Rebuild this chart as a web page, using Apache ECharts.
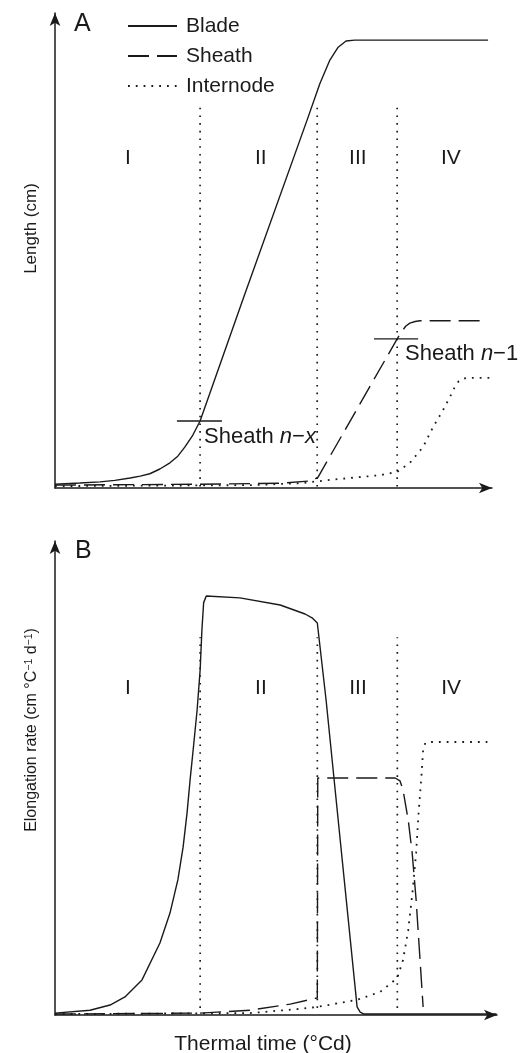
<!DOCTYPE html>
<html><head><meta charset="utf-8">
<script src="https://cdn.jsdelivr.net/npm/echarts@6/dist/echarts.min.js"></script>
<style>html,body{margin:0;padding:0;background:#fff}#c{width:523px;height:1053px}</style>
</head><body><div id="c"></div>
<script>
// Phase boundaries (thermal time units)
var phaseBounds = [33.2, 60.0, 78.3];
var phaseNames = ['I', 'II', 'III', 'IV'];
var phaseLabelX = [16.7, 47.1, 69.3, 90.6];

// Panel A: length
var bladeA_t = [0, 5.7, 10.3, 13.7, 17.2, 19.5, 21.7, 24.0, 26.3, 28.1, 29.7, 31.4, 33.2, 43.2, 57.7, 60.6, 62.9, 64.8, 66.6, 68.6, 99.1];
var bladeA_v = [0.8, 1.05, 1.3, 1.6, 2.1, 2.5, 3.0, 4.0, 5.3, 6.7, 8.6, 10.9, 14.1, 40.2, 77.5, 85.1, 90.1, 92.8, 94.1, 94.3, 94.3];
var sheathA_t = [0, 33.2, 51.5, 58.8, 60.2, 78.3, 79.4, 80.3, 81.2, 82.4, 83.5, 98.4];
var sheathA_v = [0.6, 0.8, 1.0, 1.5, 2.3, 31.4, 33.05, 34.1, 34.7, 35.05, 35.2, 35.2];
var interA_t = [0, 44.6, 56.1, 62.9, 67.5, 74.4, 78.3, 81.2, 84.2, 86.5, 88.8, 90.4, 91.5, 92.4, 93.4, 95.0, 99.5];
var interA_v = [0.4, 0.6, 1.0, 1.7, 2.1, 2.7, 3.4, 5.3, 8.6, 12.8, 16.4, 19.2, 21.3, 22.5, 23.05, 23.2, 23.2];

// Panel B: elongation rate
var bladeB_t = [0, 8.0, 12.6, 16.0, 19.9, 24.0, 26.3, 28.1, 29.3, 30.2, 30.9, 31.6, 32.5, 33.2, 33.6, 34.0, 34.6, 42.3, 51.5, 57.2, 58.8, 60.0, 62.0, 65.7, 69.1, 69.8, 70.7, 101];
var bladeB_v = [0.4, 1.0, 2.1, 3.8, 7.4, 15.2, 21.5, 28.5, 35.4, 42.6, 49.6, 55.9, 64.3, 72.8, 81.2, 87.0, 88.4, 88.0, 86.5, 84.6, 83.8, 82.7, 66.5, 32.7, 1.7, 0.6, 0.2, 0.2];
var sheathB_t = [0, 33.2, 44.6, 53.8, 60.0, 60.1, 77.8, 78.9, 79.6, 80.8, 81.7, 82.6, 83.5, 84.2];
var sheathB_v = [0.2, 0.4, 1.0, 2.3, 3.6, 50.0, 50.0, 49.4, 47.5, 41.1, 34.2, 24.3, 11.6, 1.7];
var interB_t = [0, 44.6, 56.1, 60.0, 69.1, 74.4, 78.3, 79.6, 80.8, 81.9, 82.6, 83.1, 83.8, 84.2, 84.7, 85.4, 98.9];
var interB_v = [0.2, 0.4, 1.3, 1.7, 3.2, 4.9, 7.8, 11.6, 17.9, 27.0, 34.2, 41.8, 50.2, 55.9, 57.4, 57.6, 57.6];

// Annotation markers (sheath n-x, sheath n-1)
var markNx_t = [27.9, 38.2], markNx_v = 14.1;
var markN1_t = [73.0, 83.1], markN1_v = 31.4;

var FONT = 'Liberation Sans, Arial, sans-serif';
var INK = '#1a1a1a';
function zip(a, b) { return a.map(function (x, i) { return [x, b[i]]; }); }
var solid = { color: INK, width: 1.4, type: 'solid' };
var dashed = { color: INK, width: 1.4, type: [21, 8] };
var dotted = { color: INK, width: 1.8, type: [1.8, 6] };
var divider = { color: INK, width: 1.7, type: [1.6, 6.1] };

function lineSeries(name, data, style, gi) {
  return { name: name, type: 'line', xAxisIndex: gi, yAxisIndex: gi, data: data,
    showSymbol: false, symbol: 'none', smooth: false, itemStyle: { color: INK },
    lineStyle: style, silent: true, z: 3, animation: false };
}

var series = [];
series.push(lineSeries('Blade', zip(bladeA_t, bladeA_v), solid, 0));
series.push(lineSeries('Sheath', zip(sheathA_t, sheathA_v), dashed, 0));
series.push(lineSeries('Internode', zip(interA_t, interA_v), dotted, 0));
series.push(lineSeries('Blade', zip(bladeB_t, bladeB_v), solid, 1));
series.push(lineSeries('Sheath', zip(sheathB_t, sheathB_v), dashed, 1));
series.push(lineSeries('Internode', zip(interB_t, interB_v), dotted, 1));

// phase divider lines
phaseBounds.forEach(function (b) {
  series.push(lineSeries('div', [[b, 0.3], [b, 80.2]], divider, 0));
  series.push(lineSeries('div', [[b, 1.5], [b, 79.7]], divider, 1));
});
// sheath markers
series.push(lineSeries('mk', [[markNx_t[0], markNx_v], [markNx_t[1], markNx_v]], solid, 0));
series.push(lineSeries('mk', [[markN1_t[0], markN1_v], [markN1_t[1], markN1_v]], solid, 0));

// text labels via invisible scatter
function textSeries(gi, pts, size) {
  return { type: 'scatter', xAxisIndex: gi, yAxisIndex: gi, symbolSize: 0, silent: true, animation: false,
    itemStyle: { color: INK, opacity: 1 },
    data: pts.map(function (p) {
      return { value: [p[0], p[1]], label: { show: true, formatter: p[2], position: p[3] || 'inside', distance: 0,
        color: INK, opacity: 1, fontSize: size, fontFamily: FONT, textBorderWidth: 0,
        rich: { i: { fontStyle: 'italic', fontSize: size, fontFamily: FONT, color: INK, textBorderWidth: 0 } } } };
    }) };
}
series.push(textSeries(0, phaseNames.map(function (n, i) { return [phaseLabelX[i], 69.5, n]; }), 21));
series.push(textSeries(1, phaseNames.map(function (n, i) { return [phaseLabelX[i], 69.0, n]; }), 21));
series.push(textSeries(0, [[34.1, 10.7, 'Sheath {i|n}\u2212{i|x}', 'right'], [80.1, 28.2, 'Sheath {i|n}\u22121', 'right']], 22));

var axisLine = { show: true, symbol: ['none', 'arrow'], symbolSize: [8, 13], symbolOffset: [0, 0],
  lineStyle: { color: INK, width: 1.5 } };
function xAx(gi, max, name) {
  return { type: 'value', gridIndex: gi, min: 0, max: max, axisLine: axisLine, axisTick: { show: false },
    axisLabel: { show: false }, splitLine: { show: false }, name: name, nameLocation: 'middle', nameGap: 19,
    nameTextStyle: { color: INK, fontSize: 21, fontFamily: FONT, padding: [0, 26, 0, 0] } };
}
function yAx(gi, name, padStart, size) {
  return { type: 'value', gridIndex: gi, min: 0, max: 100, axisLine: axisLine, axisTick: { show: false },
    axisLabel: { show: false }, splitLine: { show: false }, name: name, nameLocation: 'middle', nameGap: 15,
    nameRotate: 90, nameTextStyle: { color: INK, fontSize: size, fontFamily: FONT, padding: [0, 0, 0, padStart],
      rich: { s: { fontSize: 10.5, fontFamily: FONT, color: INK, verticalAlign: 'top', lineHeight: size } } } };
}

var chart = echarts.init(document.getElementById('c'), null, { renderer: 'canvas' });
chart.setOption({
  animation: false,
  backgroundColor: '#fff',
  title: [
    { text: 'A', left: 74, top: 12, padding: 0, textStyle: { fontSize: 25, fontWeight: 'normal', color: INK, fontFamily: FONT } },
    { text: 'B', left: 75, top: 539, padding: 0, textStyle: { fontSize: 25, fontWeight: 'normal', color: INK, fontFamily: FONT } }
  ],
  legend: { orient: 'vertical', left: 127, top: 15, padding: 0, itemWidth: 49, itemHeight: 16, itemGap: 8,
    data: ['Blade', 'Sheath', 'Internode'], selectedMode: false,
    itemStyle: { opacity: 0 },
    textStyle: { fontSize: 21, lineHeight: 22, color: INK, fontFamily: FONT, padding: [0, 0, 0, 4] } },
  grid: [
    { left: 55, right: 31, top: 13, height: 475, containLabel: false, outerBoundsMode: 'none' },
    { left: 55, right: 26, top: 541, height: 474, containLabel: false, outerBoundsMode: 'none' }
  ],
  xAxis: [xAx(0, 100, ''), xAx(1, 101.1, 'Thermal time (\u00b0Cd)')],
  yAxis: [yAx(0, 'Length (cm)', 44, 17), yAx(1, 'Elongation rate (cm \u00b0C{s|\u22121} d{s|\u22121})', 96, 16)],
  series: series
});
</script></body></html>
